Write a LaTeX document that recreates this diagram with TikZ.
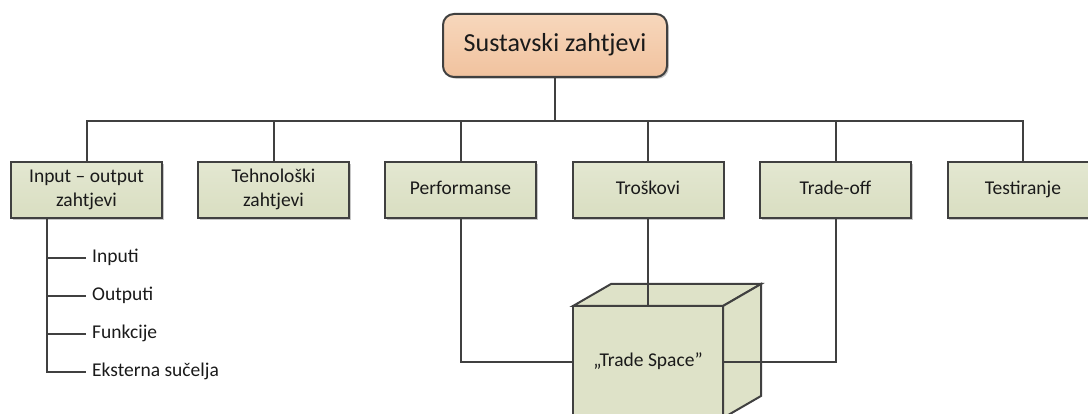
\documentclass[tikz,border=0pt]{standalone}
\usepackage{fontspec}
\setmainfont{Carlito}
\usetikzlibrary{calc}
\definecolor{edge}{HTML}{404040}
\definecolor{boxtop}{HTML}{E3E7D1}
\definecolor{boxbot}{HTML}{D9DEC1}
\definecolor{boxfill}{HTML}{DEE2C8}
\definecolor{roottop}{HTML}{F7D7BC}
\definecolor{rootbot}{HTML}{F1C29E}
\definecolor{txt}{HTML}{1A1A1A}
\tikzset{
  line/.style={draw=edge, line width=2pt},
  shade box/.style={line, top color=boxtop, bottom color=boxbot, text=txt,
    minimum width=151pt, minimum height=56pt, align=center, inner sep=2pt,
    font=\fontsize{19.5}{23.4}\selectfont,
    preaction={fill=black!22, transform canvas={shift={(1.8pt,-1.8pt)}}}},
  rootbox/.style={line, rounded corners=11pt, top color=roottop, bottom color=rootbot,
    text=txt, minimum width=224pt, minimum height=63pt,
    font=\fontsize{26}{31}\selectfont,
    preaction={fill=black!22, rounded corners=11pt, transform canvas={shift={(1.8pt,-1.8pt)}}}},
  subitem/.style={anchor=west, inner xsep=6pt, inner ysep=1pt, text=txt,
    font=\fontsize{19.5}{23.4}\selectfont},
  face/.style={line, fill=boxfill, line join=miter}
}
\begin{document}
\begin{tikzpicture}[x=1pt, y=-1pt]
\useasboundingbox (0,0) rectangle (1088,414);
% root
\node[rootbox] (root) at (555,45.5) {\strut Sustavski zahtjevi};
% children
\node[shade box] (io) at (86.5,190) {\strut Input – output\\\strut zahtjevi};
\node[shade box] (teh) at (273.5,190) {\strut Tehnološki\\\strut zahtjevi};
\node[shade box] (perf) at (460.5,190) {\strut Performanse};
\node[shade box] (tros) at (648,190) {\strut Troškovi};
\node[shade box] (trade) at (835.5,190) {\strut Trade-off};
\node[shade box] (test) at (1023,190) {\strut Testiranje};
% bus
\coordinate (bus) at (555,121);
\draw[line] (root.south) -- (bus);
\foreach \n in {io,teh,perf,tros,trade,test}{
  \draw[line] (\n.north) |- (bus);
}
% sub-items
\node[subitem] (s1) at (86,258) {\strut Inputi};
\node[subitem] (s2) at (86,296) {\strut Outputi};
\node[subitem] (s3) at (86,334) {\strut Funkcije};
\node[subitem] (s4) at (86,372) {\strut Eksterna sučelja};
\coordinate (iob) at ($(io.south west)+(37,0)$);
\draw[line] (iob) |- (s4.west);
\foreach \s in {s1,s2,s3}{
  \draw[line] (iob |- \s.west) -- (\s.west);
}
% cube
\draw[face] (573,306) -- (611,284) -- (761,284) -- (723,306) -- cycle;
\draw[face] (723,306) -- (761,284) -- (761,396) -- (723,418) -- cycle;
\node[face, minimum width=150pt, minimum height=112pt, inner sep=0pt, text=txt,
  font=\fontsize{19.5}{23.4}\selectfont] (ts) at (648,362) {\strut „Trade Space”};
% connectors to cube
\draw[line] (perf.south) |- (ts.west);
\draw[line] (tros.south) -- (ts.north);
\draw[line] (trade.south) |- (ts.east);
\end{tikzpicture}
\end{document}
